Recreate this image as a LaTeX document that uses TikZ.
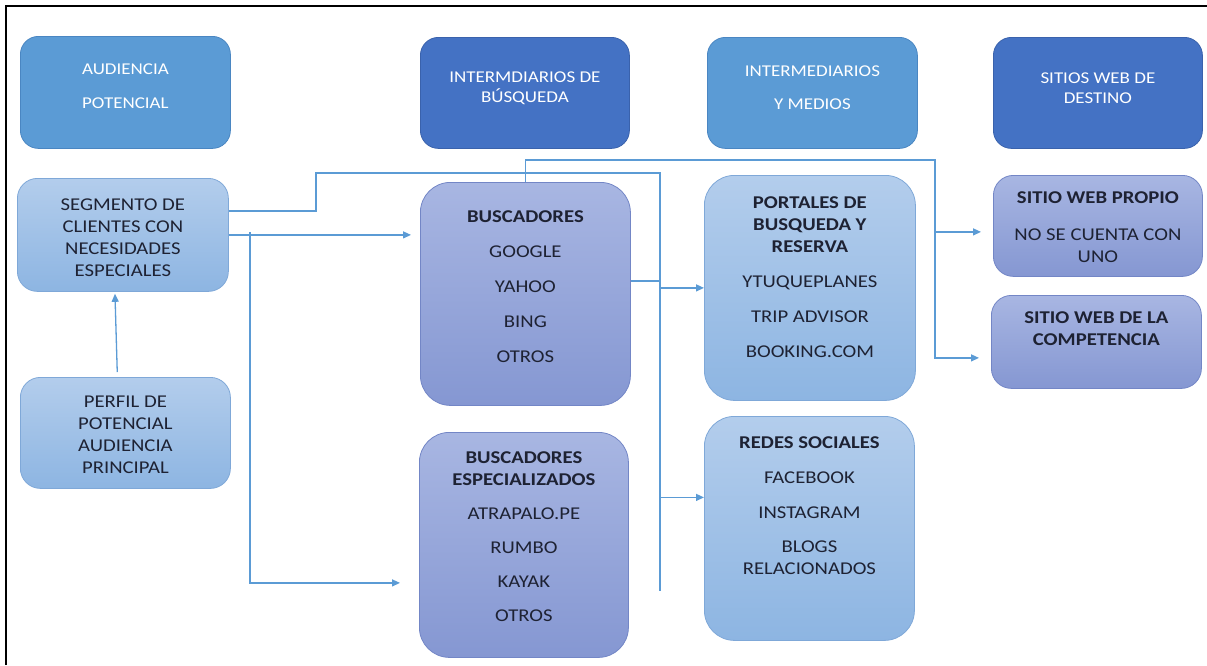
\documentclass[tikz,border=0pt]{standalone}
\usepackage{fontspec}
\setmainfont{Carlito}[FakeStretch=1.15]
\usetikzlibrary{arrows.meta,positioning,calc}
\definecolor{headLight}{HTML}{5B9BD5}
\definecolor{headLightLine}{HTML}{4A86C2}
\definecolor{headDark}{HTML}{4472C4}
\definecolor{headDarkLine}{HTML}{3A62AC}
\definecolor{skyTop}{HTML}{B3CDEC}
\definecolor{skyBot}{HTML}{8DB5E2}
\definecolor{skyLine}{HTML}{7FA8D8}
\definecolor{lavTop}{HTML}{A8B6E2}
\definecolor{lavBot}{HTML}{8597D2}
\definecolor{lavLine}{HTML}{7386C6}
\definecolor{lineBlue}{HTML}{5B9BD5}
\definecolor{inkDark}{HTML}{1E2233}

\tikzset{
  box/.style={anchor=north west, inner sep=0pt, line width=0.8pt},
  headA/.style={box, rounded corners=18pt, fill=headLight, draw=headLightLine},
  headB/.style={box, rounded corners=18pt, fill=headDark, draw=headDarkLine},
  skybox/.style={box, top color=skyTop, bottom color=skyBot, draw=skyLine},
  lavbox/.style={box, top color=lavTop, bottom color=lavBot, draw=lavLine},
  hdtxt/.style={anchor=north, inner sep=0pt, align=center, text=white,
    font=\fontsize{16.5}{20}\selectfont},
  bodytxt/.style={anchor=north, inner sep=0pt, align=center, text=inkDark,
    font=\fontsize{18}{22}\selectfont}
}

\begin{document}
\begin{tikzpicture}[x=1pt, y=-1pt,
    conn/.style={draw=lineBlue, line width=1.3pt},
    arr/.style={conn, -{Triangle[length=8pt,width=7pt]}}]
  \useasboundingbox (0,0) rectangle (1207,665);
  \draw[line width=1.2pt] (6,665) -- (6,6) -- (1207,6);

  % cabeceras
  \node[headA, minimum width=210pt, minimum height=112pt] (aud) at (20,36) {};
  \node[headB, minimum width=209pt, minimum height=111pt] (intb) at (420,37) {};
  \node[headA, minimum width=210pt, minimum height=111pt] (intm) at (707,37) {};
  \node[headB, minimum width=209pt, minimum height=111pt] (sitd) at (993,37) {};

  \node[hdtxt] (audT) at ([yshift=-27.6pt]aud.north) {AUDIENCIA\\[14pt]POTENCIAL};
  \node[hdtxt] (intbT) at ([yshift=-34.6pt]intb.north) {INTERMDIARIOS DE\\BÚSQUEDA};
  \node[hdtxt] (intmT) at ([yshift=-28.6pt]intm.north) {INTERMEDIARIOS\\[13pt]Y MEDIOS};
  \node[hdtxt] (sitdT) at ([yshift=-35.6pt]sitd.north) {SITIOS WEB DE\\DESTINO};

  % cajas
  \node[skybox, rounded corners=20pt, minimum width=211pt, minimum height=113pt] (seg) at (17,178) {};
  \node[skybox, rounded corners=20pt, minimum width=210pt, minimum height=111pt] (perf) at (20,377) {};
  \node[lavbox, rounded corners=30pt, minimum width=210pt, minimum height=223pt] (bus) at (420,182) {};
  \node[lavbox, rounded corners=30pt, minimum width=209pt, minimum height=225pt] (busesp) at (419,432) {};
  \node[skybox, rounded corners=30pt, minimum width=211pt, minimum height=225pt] (port) at (704,175) {};
  \node[skybox, rounded corners=30pt, minimum width=210pt, minimum height=224pt] (redes) at (704,416) {};
  \node[lavbox, rounded corners=20pt, minimum width=209pt, minimum height=101pt] (swp) at (993,175) {};
  \node[lavbox, rounded corners=20pt, minimum width=210pt, minimum height=93pt] (swc) at (991,295) {};

  \node[bodytxt] (segT) at ([yshift=-20.6pt]seg.north)
    {SEGMENTO DE\\CLIENTES CON\\NECESIDADES\\ESPECIALES};
  \node[bodytxt] (perfT) at ([yshift=-18.6pt]perf.north)
    {PERFIL DE\\POTENCIAL\\AUDIENCIA\\PRINCIPAL};
  \node[bodytxt] (busT) at ([yshift=-28.6pt]bus.north)
    {\textbf{BUSCADORES}\\[13pt]GOOGLE\\[13pt]YAHOO\\[13pt]BING\\[13pt]OTROS};
  \node[bodytxt] (busespT) at ([yshift=-19.6pt]busesp.north)
    {\textbf{BUSCADORES}\\\textbf{ESPECIALIZADOS}\\[12pt]ATRAPALO.PE\\[12pt]RUMBO\\[12pt]KAYAK\\[12pt]OTROS};
  \node[bodytxt] (portT) at ([yshift=-21.6pt]port.north)
    {\textbf{PORTALES DE}\\\textbf{BUSQUEDA Y}\\\textbf{RESERVA}\\[13pt]YTUQUEPLANES\\[13pt]TRIP ADVISOR\\[13pt]BOOKING.COM};
  \node[bodytxt] (redesT) at ([yshift=-20.6pt]redes.north)
    {\textbf{REDES SOCIALES}\\[13pt]FACEBOOK\\[13pt]INSTAGRAM\\[12pt]BLOGS\\RELACIONADOS};
  \node[bodytxt] (swpT) at ([yshift=-16.6pt]swp.north)
    {\textbf{SITIO WEB PROPIO}\\[15pt]NO SE CUENTA CON\\UNO};
  \node[bodytxt] (swcT) at ([yshift=-16.6pt]swc.north)
    {\textbf{SITIO WEB DE LA}\\\textbf{COMPETENCIA}};

  % conectores
  \coordinate (segUp) at ([yshift=24pt]seg.east);
  \coordinate (jA) at (316,173);
  \coordinate (jEnd) at (660,591);
  \coordinate (jLeft) at (250,232);
  \coordinate (jTop) at (935,160);
  \coordinate (espIn) at ([yshift=-38pt]busesp.west);
  \coordinate (redesIn) at ([yshift=31pt]redes.west);
  \coordinate (swpIn) at ([yshift=-6pt]swp.west);
  \coordinate (swcIn) at ([yshift=-16pt]swc.west);

  \draw[arr, shorten <=5pt, shorten >=2pt] ([xshift=-8pt]perf.north) -- ([xshift=-8pt]seg.south);
  \draw[conn] (segUp) -| (jA) -| (jEnd);
  \draw[arr, shorten >=9pt] (seg.east) -- (seg.east -| bus.west);
  \draw[arr, shorten >=19pt] (jLeft) |- (espIn);
  \draw[conn] ([yshift=13pt]bus.east) -- ([yshift=13pt]bus.east -| jEnd);
  \draw[arr] (port.west -| jEnd) -- (port.west);
  \draw[arr] (redesIn -| jEnd) -- (redesIn);
  \draw[arr, shorten >=12pt] (bus.north) |- (jTop) |- (swcIn);
  \draw[arr, shorten >=12pt] (jTop |- swpIn) -- (swpIn);
\end{tikzpicture}
\end{document}
